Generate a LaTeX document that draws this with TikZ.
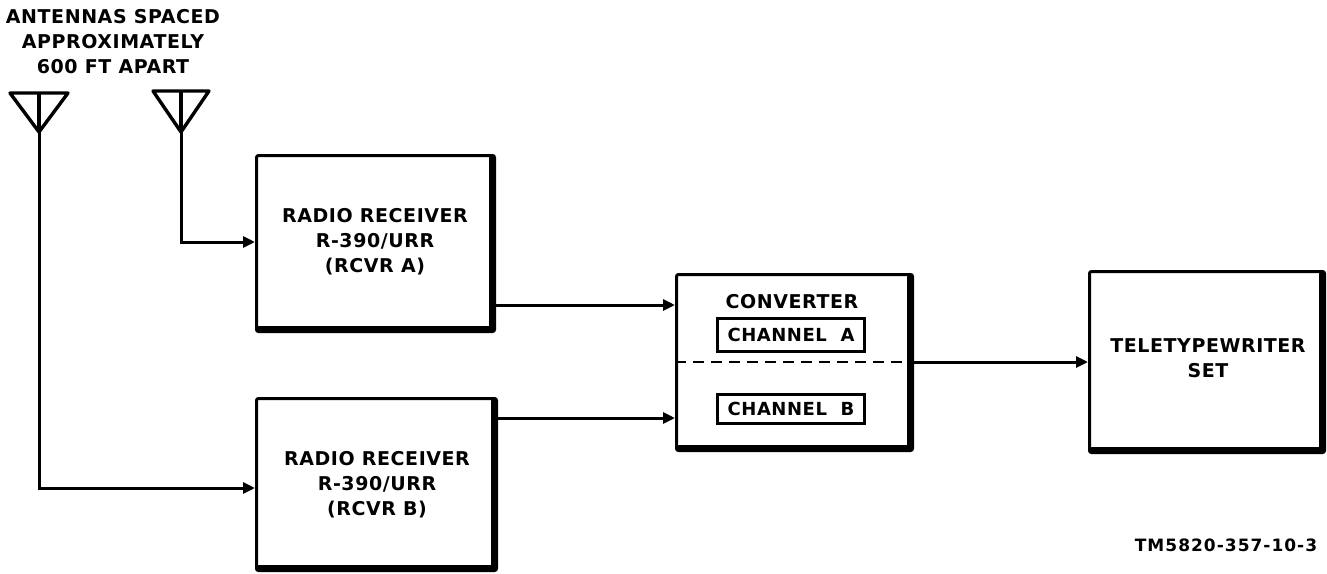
\documentclass[tikz,border=0pt]{standalone}
\usepackage{fontspec}
\setmainfont{DejaVu Sans}[LetterSpace=3]
\usetikzlibrary{arrows.meta}
\begin{document}
\begin{tikzpicture}[x=1pt,y=-1pt,
  lbl/.style={font=\bfseries\fontsize{19}{25}\selectfont, align=center, inner sep=0pt},
  chan/.style={draw, line width=2.6pt, minimum width=147pt, inner sep=0pt, font=\bfseries\fontsize{18}{19}\selectfont},
  conn/.style={line width=3pt, -{Triangle[length=12pt,width=11pt]}},
  shadowline/.style={line width=6pt, line cap=round}
]
\useasboundingbox (0,0) rectangle (1327,573);
% boxes
\newcommand\shadowbox[5]{%
  \node[draw, line width=3pt, rounded corners=2pt, minimum width=#4-#2, minimum height=#5-#3, inner sep=0pt, anchor=north west] (#1) at (#2,#3) {};
  \draw[shadowline] (#4-1,#3+4) -- (#4-1,#5-1) -- (#2+4,#5-1);
}
\shadowbox{rA}{255}{154}{493}{330}
\shadowbox{rB}{255}{397}{495}{569}
\shadowbox{cv}{675}{273}{911}{449}
\shadowbox{tt}{1088}{270}{1323}{451}

\node[lbl] (tA) at (375,242) {RADIO RECEIVER\\R-390/URR\\(RCVR A)};
\node[lbl] (tB) at (377,485) {RADIO RECEIVER\\R-390/URR\\(RCVR B)};
\node[lbl] (tT) at (1208,358) {TELETYPEWRITER\\SET};
\node[lbl] (tC) at (792,302) {CONVERTER};
\node[chan, minimum height=33pt] (chA) at (791,335) {CHANNEL\ \ A};
\node[chan, minimum height=29pt] (chB) at (791,409) {CHANNEL\ \ B};
\draw[line width=2.8pt, dash pattern=on 11pt off 7pt] (cv.west |- 0,362) -- (cv.east |- 0,362);

\node[lbl, align=center] (note) at (113,42) {ANTENNAS SPACED\\APPROXIMATELY\\600 FT APART};
\node[font=\bfseries\fontsize{17}{18}\selectfont\addfontfeatures{LetterSpace=6}, inner sep=0pt] (tm) at (1226,545) {TM5820-357-10-3};

% antennas
\coordinate (a1) at (39,132);
\coordinate (a2) at (181,132);
\draw[line width=3.4pt, line join=round] (10,93) -- (68,93) -- (a1) -- cycle;
\draw[line width=3.4pt] (39,93) -- (a1);
\draw[line width=3.4pt, line join=round] (153,91) -- (209,91) -- (a2) -- cycle;
\draw[line width=3.4pt] (181,91) -- (a2);

\coordinate (k1) at (39,488);
\coordinate (k2) at (181,242);
\draw[conn] (a1) -- (k1) -- (rB.west |- k1);
\draw[conn] (a2) -- (k2) -- (rA.west |- k2);

\draw[conn] (rA.east |- 0,305) -- (cv.west |- 0,305);
\draw[conn] (rB.east |- 0,418) -- (cv.west |- 0,418);
\draw[conn] (cv.east |- 0,362) -- (tt.west |- 0,362);
\end{tikzpicture}
\end{document}
